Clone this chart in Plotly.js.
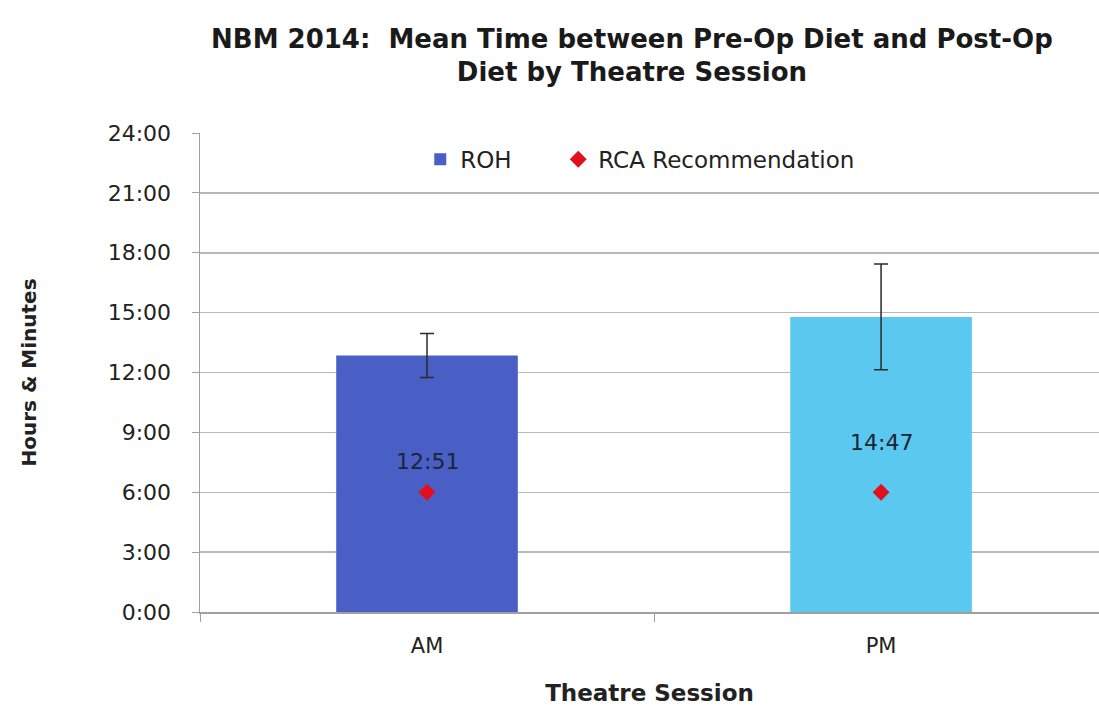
<!DOCTYPE html>
<html>
<head>
<meta charset="utf-8">
<script src="https://cdn.plot.ly/plotly-3.0.1.min.js"></script>
<style>html,body{margin:0;padding:0;background:#fff}#chart{width:1099px;height:711px}</style>
</head>
<body>
<div id="chart"></div>
<script>
// Data (hours, decimal)
const sessions = ["AM", "PM"];
const rohMeanHours = [12 + 51/60, 14 + 47/60];
const rohLabels = ["12:51", "14:47"];
const rohErrorHours = [1.1, 2.65];
const rcaRecommendationHours = [6, 6];
const yTickVals = [0, 3, 6, 9, 12, 15, 18, 21, 24];
const yTickText = ["0:00", "3:00", "6:00", "9:00", "12:00", "15:00", "18:00", "21:00", "24:00"];
const barColors = ["#4a5fc5", "#5bc9ef"];

const FONT = "DejaVu Sans, Verdana, sans-serif";

const traces = [
  {
    type: "bar",
    name: "ROH",
    x: sessions,
    y: rohMeanHours,
    width: 0.4,
    marker: {color: barColors},
    error_y: {type: "data", array: rohErrorHours, visible: true, color: "#2a2a2a", thickness: 1.5, width: 7},
    legend: "legend",
    hoverinfo: "skip"
  },
  {
    type: "scatter",
    mode: "markers",
    name: "RCA Recommendation",
    x: sessions,
    y: rcaRecommendationHours,
    marker: {symbol: "diamond", color: "#e0101e", size: 13},
    legend: "legend2",
    hoverinfo: "skip"
  }
];

const annotations = sessions.map((s, i) => ({
  x: s, y: rohMeanHours[i] / 2, xref: "x", yref: "y",
  text: rohLabels[i], showarrow: false, yshift: 22,
  font: {family: FONT, size: 22, color: "#1d2436"}
}));

const legendFont = {family: FONT, size: 23, color: "#222"};

const layout = {
  width: 1099, height: 711,
  margin: {l: 200, r: 0, t: 133, b: 99},
  paper_bgcolor: "#fff", plot_bgcolor: "#fff",
  font: {family: FONT, color: "#222"},
  title: {
    text: "<b>NBM 2014:&nbsp; Mean Time between Pre-Op Diet and Post-Op<br>Diet by Theatre Session</b>",
    x: 0.575, xanchor: "center", y: 0.933, yanchor: "top",
    font: {family: FONT, size: 26, color: "#1a1a1a"}
  },
  showlegend: true,
  legend: {
    orientation: "h", x: 0.245, xanchor: "left", y: 0.945, yanchor: "middle",
    itemwidth: 30, font: legendFont, bgcolor: "rgba(0,0,0,0)"
  },
  legend2: {
    orientation: "h", x: 0.3985, xanchor: "left", y: 0.945, yanchor: "middle",
    itemwidth: 30, font: legendFont, bgcolor: "rgba(0,0,0,0)"
  },
  xaxis: {
    type: "category", range: [-0.5, 1.48],
    showline: true, linecolor: "#a0a0a0", linewidth: 1.5,
    ticks: "outside", tickson: "boundaries", ticklen: 8, tickcolor: "#a0a0a0",
    ticklabelstandoff: 14,
    tickfont: {family: FONT, size: 21, color: "#222"},
    showgrid: false, zeroline: false,
    title: {text: "<b>Theatre Session</b>", standoff: 28, font: {family: FONT, size: 23, color: "#222"}}
  },
  yaxis: {
    range: [0, 24], tickvals: yTickVals, ticktext: yTickText,
    showline: true, linecolor: "#a0a0a0", linewidth: 1.5,
    ticks: "outside", ticklen: 7, tickcolor: "#a0a0a0",
    ticklabelstandoff: 16,
    tickfont: {family: FONT, size: 22, color: "#222"},
    showgrid: true, gridcolor: "#b8b8b8", gridwidth: 1.5, zeroline: false,
    title: {text: "<b>Hours &amp; Minutes</b>", standoff: 65, font: {family: FONT, size: 20, color: "#222"}}
  },
  annotations: annotations
};

Plotly.newPlot("chart", traces, layout, {displayModeBar: false, staticPlot: true});
</script>
</body>
</html>
